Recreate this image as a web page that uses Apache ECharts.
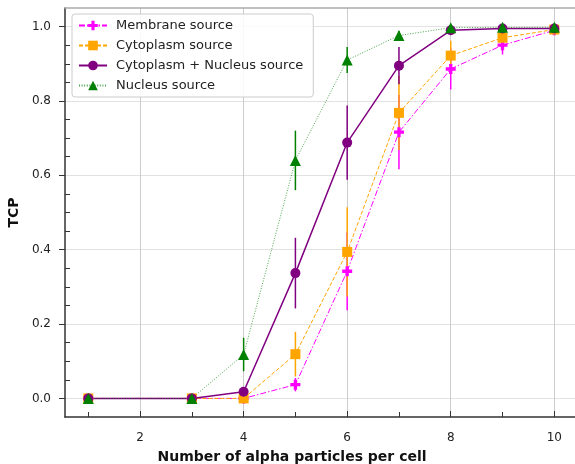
<!DOCTYPE html>
<html>
<head>
<meta charset="utf-8">
<script src="https://cdn.jsdelivr.net/npm/echarts@6/dist/echarts.min.js"></script>
<style>
  html, body { margin: 0; padding: 0; background: #fff; }
  #chart { width: 575px; height: 464px; }
</style>
</head>
<body>
<div id="chart"></div>
<script>
const xs = [1, 3, 4, 5, 6, 7, 8, 9, 10]
const membrane = [0, 0, 0, 0.037, 0.342, 0.716, 0.886, 0.95, 0.99]
const membraneErr = [0, 0, 0, 0.018, 0.105, 0.1, 0.055, 0.025, 0.008]
const cyto = [0, 0, 0, 0.119, 0.394, 0.768, 0.922, 0.97, 0.992]
const cytoErr = [0, 0, 0, 0.06, 0.12, 0.1, 0.04, 0.02, 0.006]
const cytoNuc = [0, 0, 0.018, 0.337, 0.688, 0.895, 0.99, 0.995, 0.995]
const cytoNucErr = [0, 0, 0.01, 0.095, 0.1, 0.05, 0.01, 0.005, 0.004]
const nucleus = [0, 0, 0.118, 0.64, 0.91, 0.976, 0.997, 0.998, 0.998]
const nucleusErr = [0, 0, 0.045, 0.08, 0.035, 0.012, 0.003, 0.002, 0.002]

const xMajor = [2, 4, 6, 8, 10]
const xMinor = [1, 3, 5, 7, 9]
const yMajor = [0, 0.2, 0.4, 0.6, 0.8, 1.0]
const yMinor = [0.05, 0.1, 0.15, 0.25, 0.3, 0.35, 0.45, 0.5, 0.55, 0.65, 0.7, 0.75, 0.85, 0.9, 0.95]

const FONT = 'DejaVu Sans'
const plusPath = 'path://M4,0H8V4H12V8H8V12H4V8H0V4H4Z'

const seriesDefs = [
    { name: 'Membrane source', ys: membrane, err: membraneErr, color: '#ff00ff',
      symbol: plusPath, size: 10, width: 1, type: [6, 2, 1.5, 2], opacity: 1 },
    { name: 'Cytoplasm source', ys: cyto, err: cytoErr, color: '#ffa500',
      symbol: 'rect', size: 10, width: 1, type: [4, 2], opacity: 1 },
    { name: 'Cytoplasm + Nucleus source', ys: cytoNuc, err: cytoNucErr, color: '#800080',
      symbol: 'circle', size: 10, width: 1.5, type: 'solid', opacity: 1 },
    { name: 'Nucleus source', ys: nucleus, err: nucleusErr, color: '#008000',
      symbol: 'triangle', size: 11, width: 1, type: [1, 1.6], opacity: 0.7 },
]

const series = []
// error bars first so markers sit on top
seriesDefs.forEach((d) => {
    series.push({
        type: 'custom',
        name: d.name + ' err',
        z: 1,
        silent: true,
        data: xs.map((x, i) => [x, d.ys[i] - d.err[i], d.ys[i] + d.err[i]]),
        renderItem: (params, api) => {
            const p1 = api.coord([api.value(0), api.value(1)])
            const p2 = api.coord([api.value(0), api.value(2)])
            return {
                type: 'line',
                shape: { x1: p1[0], y1: p1[1], x2: p2[0], y2: p2[1] },
                style: { stroke: d.color, lineWidth: 1.5 }
            }
        }
    })
})
seriesDefs.forEach((d) => {
    series.push({
        type: 'line',
        name: d.name,
        z: 3,
        data: xs.map((x, i) => [x, d.ys[i]]),
        symbol: d.symbol,
        symbolSize: d.size,
        showAllSymbol: true,
        itemStyle: { color: d.color, opacity: 1 },
        lineStyle: { color: d.color, width: d.width, type: d.type, opacity: d.opacity },
        emphasis: { disabled: true },
        animation: false
    })
})

const myChart = echarts.init(document.getElementById('chart'))
myChart.setOption({
    animation: false,
    grid: { left: 65, right: 0, top: 8, bottom: 47, outerBoundsMode: 'none', containLabel: false },
    legend: {
        data: seriesDefs.map((d) => d.name),
        orient: 'vertical',
        left: 72, top: 14,
        padding: [5, 10, 5, 6],
        itemWidth: 28, itemHeight: 12, itemGap: 7,
        backgroundColor: 'rgba(255,255,255,0.85)',
        borderColor: '#ccc', borderWidth: 1, borderRadius: 3,
        textStyle: { fontFamily: FONT, fontSize: 13, color: '#222', padding: [0, 0, 0, 4] }
    },
    xAxis: [{
        type: 'value', min: 0.55, max: 10.4,
        name: 'Number of alpha particles per cell',
        nameLocation: 'middle', nameGap: 33,
        nameTextStyle: { fontFamily: FONT, fontSize: 14, fontWeight: 'bold', color: '#111', padding: [0, 56, 0, 0] },
        axisLine: { onZero: false, lineStyle: { color: '#333', width: 1.5 } },
        axisTick: { inside: true, length: 6, customValues: xMajor, lineStyle: { color: '#333' } },
        axisLabel: { customValues: xMajor, margin: 15, fontFamily: FONT, fontSize: 12, color: '#222' },
        splitLine: { show: true, lineStyle: { color: '#ccc', width: 1 } }
    }, {
        type: 'value', min: 0.55, max: 10.4, position: 'bottom',
        axisLine: { show: false, onZero: false },
        axisTick: { inside: true, length: 5, customValues: xMinor, lineStyle: { color: '#333' } },
        axisLabel: { show: false },
        splitLine: { show: false }
    }, {
        type: 'value', min: 0.55, max: 10.4, position: 'top',
        axisLine: { show: true, onZero: false, lineStyle: { color: '#aaa', width: 1.5 } },
        axisTick: { show: false },
        axisLabel: { show: false },
        splitLine: { show: false }
    }],
    yAxis: [{
        type: 'value', min: -0.05, max: 1.05,
        name: 'TCP',
        nameLocation: 'middle', nameGap: 42,
        nameTextStyle: { fontFamily: FONT, fontSize: 14, fontWeight: 'bold', color: '#111' },
        axisLine: { show: true, onZero: false, lineStyle: { color: '#333', width: 1.5 } },
        axisTick: { show: true, length: 6, customValues: yMajor, lineStyle: { color: '#333' } },
        axisLabel: { customValues: yMajor, margin: 14, fontFamily: FONT, fontSize: 12, color: '#222',
            formatter: (v) => v.toFixed(1) },
        splitLine: { show: true, lineStyle: { color: '#e2e2e2', width: 1 } }
    }, {
        type: 'value', min: -0.05, max: 1.05, position: 'left',
        axisLine: { show: false, onZero: false },
        axisTick: { show: true, inside: true, length: 5, customValues: yMinor, lineStyle: { color: '#333' } },
        axisLabel: { show: false },
        splitLine: { show: false }
    }],
    series: series
})
</script>
</body>
</html>
